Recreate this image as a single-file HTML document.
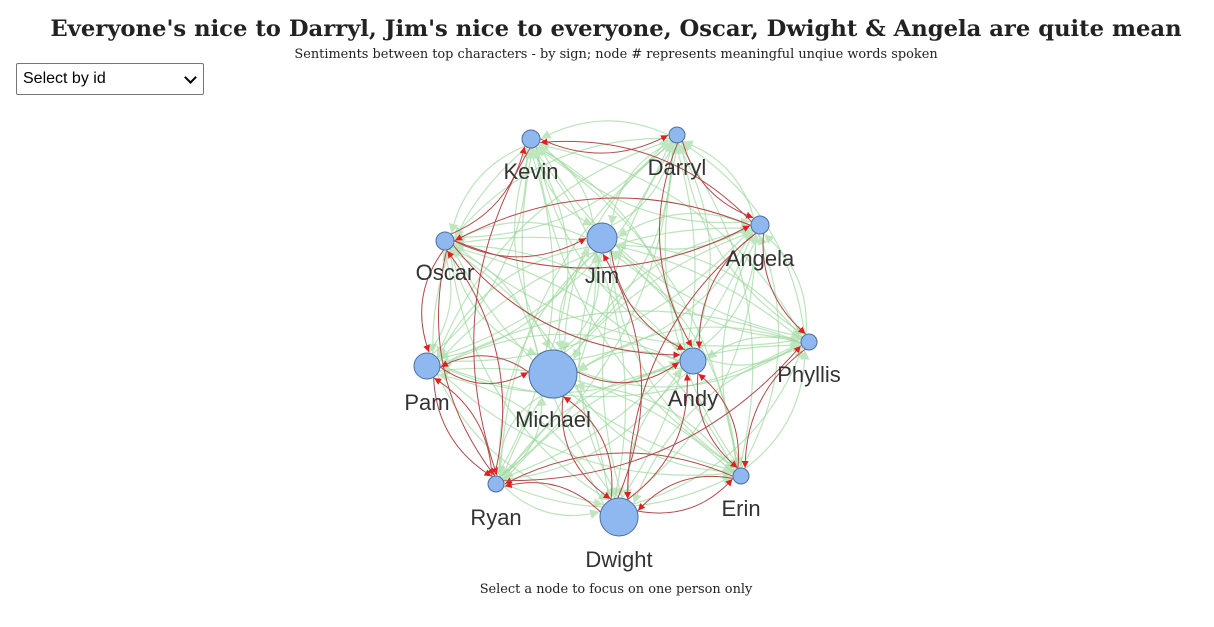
<!DOCTYPE html>
<html><head><meta charset="utf-8"><style>
body{margin:0;width:1214px;height:627px;background:#fff;overflow:hidden;position:relative;font-family:"DejaVu Serif",serif}
h1{position:absolute;top:16px;left:0;width:1232px;text-align:center;margin:0;font-size:22.7px;font-weight:bold;color:#222}
.sub{position:absolute;top:47px;left:0;width:1232px;text-align:center;font-size:12.9px;color:#222}
.sel{position:absolute;left:16px;top:63px;width:188px;height:32px;border:1px solid #767676;border-radius:2px;font-family:"Liberation Sans",sans-serif;font-size:16px;box-sizing:border-box;padding:6px 6px;color:#000}
.sel:after{content:"";position:absolute;right:8px;top:9px;width:7px;height:7px;border-right:2px solid #000;border-bottom:2px solid #000;transform:rotate(45deg)}
.foot{position:absolute;top:582px;left:0;width:1232px;text-align:center;font-size:12.9px;color:#222}
svg{position:absolute;left:0;top:0}
</style></head><body>
<h1>Everyone's nice to Darryl, Jim's nice to everyone, Oscar, Dwight &amp; Angela are quite mean</h1>
<div class="sub">Sentiments between top characters - by sign; node # represents meaningful unqiue words spoken</div>
<div class="sel">Select by id</div>
<svg id="g" width="1214" height="627" xmlns="http://www.w3.org/2000/svg">
<defs>
<marker id="ag" viewBox="0 0 10 10" refX="10" refY="5" markerWidth="8" markerHeight="8" orient="auto"><path d="M0,0L10,5L0,10z" fill="#bfe6bf"/></marker>
<marker id="ar" viewBox="0 0 10 10" refX="10" refY="5" markerWidth="7" markerHeight="7" orient="auto"><path d="M0,0L10,5L0,10z" fill="#e02020"/></marker>
</defs>
<g id="edges"></g><g id="nodes"></g>
</svg>
<div class="foot">Select a node to focus on one person only</div>
<script>
var N=[["Kevin",531,139,9,172],["Darryl",677,135,8,168],["Angela",760,225,9,259],["Jim",602,238,15,276],["Oscar",445,241,9,273],["Phyllis",809,342,8,375],["Pam",427,366,13,403],["Michael",553,374,24,420],["Andy",693,361,13,399],["Erin",741,476,8,509],["Ryan",496,484,8,518],["Dwight",619,517,19,560]];
var red={"4-0":1,"4-2":1,"4-3":1,"4-8":1,"4-6":1,"4-10":1,"11-9":1,"11-10":1,"11-7":1,"11-8":1,"11-3":1,"2-5":1,"2-0":1,"2-4":1,"2-11":1,"0-1":1,"1-2":1,"7-8":1,"7-6":1,"6-10":1,"10-4":1,"9-8":1,"8-9":1,"5-9":1,"10-5":1,"3-8":1,"9-10":1,"6-7":1,"1-8":1,"0-10":1,"7-11":1,"10-6":1,"9-11":1,"2-8":1};
var ge="",gr="";
for(var i=0;i<N.length;i++)for(var j=0;j<N.length;j++){if(i==j)continue;
var a=N[i],b=N[j],dx=b[1]-a[1],dy=b[2]-a[2],d=Math.sqrt(dx*dx+dy*dy);
var ux=dx/d,uy=dy/d,x1=a[1]+ux*a[3],y1=a[2]+uy*a[3],x2=b[1]-ux*(b[3]+1),y2=b[2]-uy*(b[3]+1);
var k=0.22,mx=(x1+x2)/2-uy*d*k,my=(y1+y2)/2+ux*d*k;
var r=red[i+"-"+j];
var p='<path d="M'+x1.toFixed(1)+','+y1.toFixed(1)+' Q'+mx.toFixed(1)+','+my.toFixed(1)+' '+x2.toFixed(1)+','+y2.toFixed(1)+'" fill="none" ';
if(r)gr+=p+'stroke="#b04a4a" stroke-width="1" marker-end="url(#ar)"/>';
else ge+=p+'stroke="#9fd89f" stroke-opacity="0.7" stroke-width="1.2" marker-end="url(#ag)"/>';}
document.getElementById("edges").innerHTML=ge+gr;
var h="";N.forEach(function(n){h+='<circle cx="'+n[1]+'" cy="'+n[2]+'" r="'+n[3]+'" fill="#8fb8f0" stroke="#4a6fa0" stroke-width="1"/>';
h+='<text x="'+n[1]+'" y="'+(n[4]+7)+'" text-anchor="middle" font-family="Liberation Sans,sans-serif" font-size="22" fill="#333">'+n[0]+'</text>';});
document.getElementById("nodes").innerHTML=h;
</script>
</body></html>
